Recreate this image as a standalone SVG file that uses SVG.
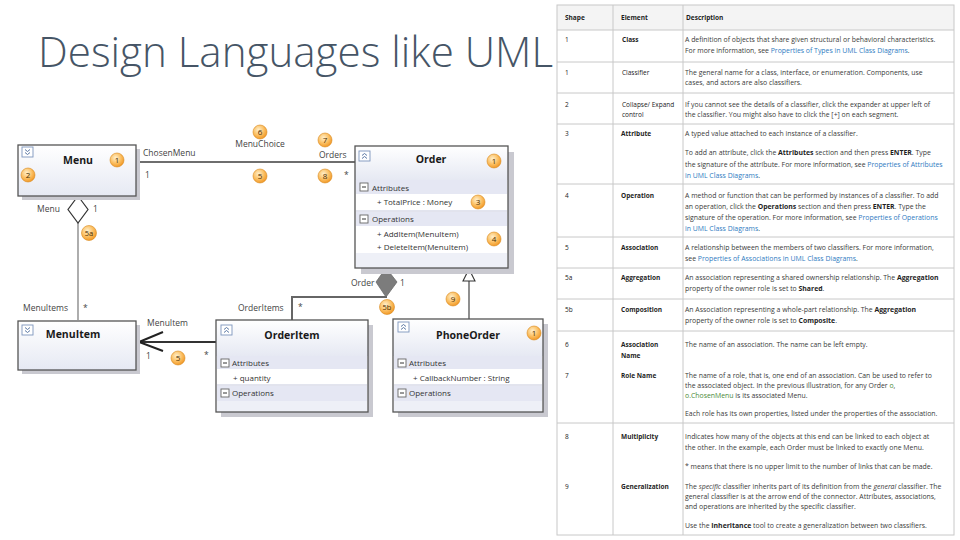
<svg xmlns="http://www.w3.org/2000/svg" xmlns:xlink="http://www.w3.org/1999/xlink" width="960" height="540" viewBox="0 0 960 540">
<defs>
<style>
.title{font-family:"Open Sans","Liberation Sans",sans-serif;font-weight:300;font-size:42px;fill:#465566}
.cn{font-family:"Open Sans","Liberation Sans",sans-serif;font-weight:700;font-size:10.5px;fill:#1a1a1a;text-anchor:middle}
.ct{font-family:"Open Sans","Liberation Sans",sans-serif;font-size:8px;fill:#333}
.lb{font-family:"Open Sans","Liberation Sans",sans-serif;font-size:8.5px;fill:#444}
.bt{font-family:"Open Sans","Liberation Sans",sans-serif;font-size:8px;fill:#4a2c00;text-anchor:middle}
.box{stroke:#555;stroke-width:1.3;fill:none}
.shadow{fill:#c9c9d0}
.band{fill:#e5e7f3}
.bandl{fill:#eef0f7}
.sep{stroke:#c5c8dc;stroke-width:1}
.badge{fill:url(#bg);stroke:#d88a1e;stroke-width:0.6}
.t{font-family:"Open Sans","Liberation Sans",sans-serif;font-size:6.9px;fill:#3a3a3a}
.e{font-family:"Open Sans","Liberation Sans",sans-serif;font-size:6.5px;fill:#222}
.b{font-weight:700;fill:#1e1e1e}
.lk{fill:#2f7bbf}
.cd{fill:#4a8a3a}
.grid{stroke:#c8c8c8;stroke-width:1;fill:none}
</style>
<linearGradient id="boxg" x1="0" y1="0" x2="0" y2="1"><stop offset="0" stop-color="#ffffff"/><stop offset="1" stop-color="#e6e9f3"/></linearGradient>
<radialGradient id="bg" cx="0.4" cy="0.35" r="0.7"><stop offset="0" stop-color="#fff0cc"/><stop offset="0.55" stop-color="#fbbf62"/><stop offset="1" stop-color="#f0931e"/></radialGradient>
<g id="expDown"><rect x="0" y="0" width="11" height="10" fill="#fff" stroke="#7d95bd" stroke-width="0.9"/><path d="M3,2.5 L5.5,4.5 L8,2.5 M3,5.5 L5.5,7.5 L8,5.5" fill="none" stroke="#4a6a9a" stroke-width="0.9"/></g>
<g id="expUp"><rect x="0" y="0" width="11" height="10" fill="#fff" stroke="#7d95bd" stroke-width="0.9"/><path d="M3,4.5 L5.5,2.5 L8,4.5 M3,7.5 L5.5,5.5 L8,7.5" fill="none" stroke="#4a6a9a" stroke-width="0.9"/></g>
<g id="minus"><rect x="0" y="0" width="8" height="8" fill="#fff" stroke="#666" stroke-width="0.9"/><line x1="2" y1="4" x2="6" y2="4" stroke="#333" stroke-width="1"/></g>
</defs>
<rect width="960" height="540" fill="#fff"/>
<text class="title" x="38" y="67" textLength="515" lengthAdjust="spacingAndGlyphs">Design Languages like UML</text>

<!-- connectors -->
<g id="connectors">
<line x1="136" y1="162" x2="355" y2="162" stroke="#6e6e6e" stroke-width="2"/>
<line x1="78" y1="223" x2="78" y2="320" stroke="#777" stroke-width="1.2"/>
<polygon points="78,196 88,209.5 78,223 68,209.5" fill="#fff" stroke="#333" stroke-width="1.2"/>
<line x1="139" y1="342" x2="216" y2="342" stroke="#333" stroke-width="2"/>
<polyline points="163,332 139,342 163,351" fill="none" stroke="#222" stroke-width="2"/>
<polyline points="292,320 292,297 387,297" fill="none" stroke="#666" stroke-width="2"/>
<polygon points="386,268 397,282 386,297 376,282" fill="#7c7c7c" stroke="#6a6a6a" stroke-width="0.8"/>
<line x1="469" y1="319" x2="469" y2="281" stroke="#444" stroke-width="1.2"/>
<polygon points="469,269 475,281 463,281" fill="#fff" stroke="#333" stroke-width="1.1"/>
<text class="lb" x="143" y="156">ChosenMenu</text>
<text class="lb" x="145" y="178">1</text>
<text class="lb" x="260" y="147" text-anchor="middle">MenuChoice</text>
<text class="lb" x="319" y="158">Orders</text>
<text class="lb" x="344" y="178">*</text>
<text class="lb" x="37" y="212">Menu</text>
<text class="lb" x="93" y="212">1</text>
<text class="lb" x="23" y="311">MenuItems</text>
<text class="lb" x="83" y="311">*</text>
<text class="lb" x="147" y="326">MenuItem</text>
<text class="lb" x="146" y="359">1</text>
<text class="lb" x="204" y="358">*</text>
<text class="lb" x="238" y="311">OrderItems</text>
<text class="lb" x="298" y="310">*</text>
<text class="lb" x="351" y="286">Order</text>
<text class="lb" x="400" y="286">1</text>
</g>

<!-- Menu -->
<g id="menu">
<rect class="shadow" x="22" y="149" width="118" height="51"/>
<rect x="18" y="145" width="118" height="51" fill="url(#boxg)"/>
<rect class="box" x="18" y="145" width="118" height="51"/>
<use xlink:href="#expDown" x="22" y="147"/>
<text class="cn" x="78" y="164">Menu</text>
</g>

<!-- Order -->
<g id="order">
<rect class="shadow" x="361" y="152" width="153" height="122"/>
<rect x="355" y="146" width="153" height="122" fill="#fff"/>
<rect x="355" y="146" width="153" height="34" fill="url(#boxg)"/>
<rect class="band" x="356" y="180" width="151" height="14"/>
<line class="sep" x1="356" y1="211" x2="507" y2="211"/>
<rect class="band" x="356" y="212" width="151" height="14"/>
<rect class="bandl" x="356" y="253" width="151" height="15"/>
<rect class="box" x="355" y="146" width="153" height="122"/>
<use xlink:href="#expUp" x="359" y="151"/>
<text class="cn" x="431" y="163">Order</text>
<use xlink:href="#minus" x="360" y="183"/>
<text class="ct" x="372" y="191">Attributes</text>
<text class="ct" x="377" y="205">+ TotalPrice : Money</text>
<use xlink:href="#minus" x="360" y="215"/>
<text class="ct" x="372" y="222">Operations</text>
<text class="ct" x="377" y="237">+ AddItem(MenuItem)</text>
<text class="ct" x="377" y="250">+ DeleteItem(MenuItem)</text>
</g>

<!-- MenuItem -->
<g id="menuitem">
<rect class="shadow" x="22" y="325" width="118" height="49"/>
<rect x="18" y="321" width="118" height="49" fill="url(#boxg)"/>
<rect class="box" x="18" y="321" width="118" height="49"/>
<use xlink:href="#expDown" x="22" y="325"/>
<text class="cn" x="73" y="338">MenuItem</text>
</g>

<!-- OrderItem -->
<g id="orderitem">
<rect class="shadow" x="221" y="325" width="152" height="92"/>
<rect x="216" y="320" width="152" height="92" fill="#fff"/>
<rect x="216" y="320" width="152" height="36" fill="url(#boxg)"/>
<rect class="band" x="217" y="356" width="150" height="13"/>
<line class="sep" x1="217" y1="385" x2="367" y2="385"/>
<rect class="band" x="217" y="386" width="150" height="15"/>
<rect class="bandl" x="217" y="401" width="150" height="11"/>
<rect class="box" x="216" y="320" width="152" height="92"/>
<use xlink:href="#expUp" x="221" y="325"/>
<text class="cn" x="292" y="339">OrderItem</text>
<use xlink:href="#minus" x="221" y="359"/>
<text class="ct" x="232" y="366">Attributes</text>
<text class="ct" x="233" y="381">+ quantity</text>
<use xlink:href="#minus" x="221" y="389"/>
<text class="ct" x="232" y="396">Operations</text>
</g>

<!-- PhoneOrder -->
<g id="phoneorder">
<rect class="shadow" x="398" y="324" width="150" height="93"/>
<rect x="393" y="319" width="150" height="93" fill="#fff"/>
<rect x="393" y="319" width="150" height="37" fill="url(#boxg)"/>
<rect class="band" x="394" y="356" width="148" height="13"/>
<line class="sep" x1="394" y1="385" x2="542" y2="385"/>
<rect class="band" x="394" y="386" width="148" height="15"/>
<rect class="bandl" x="394" y="401" width="148" height="11"/>
<rect class="box" x="393" y="319" width="150" height="93"/>
<use xlink:href="#expUp" x="398" y="322"/>
<text class="cn" x="468" y="339">PhoneOrder</text>
<use xlink:href="#minus" x="398" y="359"/>
<text class="ct" x="409" y="366">Attributes</text>
<text class="ct" x="413" y="381">+ CallbackNumber : String</text>
<use xlink:href="#minus" x="398" y="389"/>
<text class="ct" x="409" y="396">Operations</text>
</g>

<!-- badges -->
<g id="badges">
<circle class="badge" cx="117" cy="160" r="7"/><text class="bt" x="117" y="163">1</text>
<circle class="badge" cx="28" cy="175" r="7"/><text class="bt" x="28" y="178">2</text>
<circle class="badge" cx="260" cy="132" r="7"/><text class="bt" x="260" y="135">6</text>
<circle class="badge" cx="325" cy="140" r="7"/><text class="bt" x="325" y="143">7</text>
<circle class="badge" cx="260" cy="176" r="7"/><text class="bt" x="260" y="179">5</text>
<circle class="badge" cx="325" cy="176" r="7"/><text class="bt" x="325" y="179">8</text>
<circle class="badge" cx="494" cy="161" r="7"/><text class="bt" x="494" y="164">1</text>
<circle class="badge" cx="478" cy="202" r="7"/><text class="bt" x="478" y="205">3</text>
<circle class="badge" cx="494" cy="239" r="7"/><text class="bt" x="494" y="242">4</text>
<circle class="badge" cx="89" cy="233" r="7.5"/><text class="bt" x="89" y="236" style="font-size:7.5px">5a</text>
<circle class="badge" cx="387" cy="307" r="7.5"/><text class="bt" x="387" y="310" style="font-size:7.5px">5b</text>
<circle class="badge" cx="453" cy="299" r="7"/><text class="bt" x="453" y="302">9</text>
<circle class="badge" cx="534" cy="333" r="7"/><text class="bt" x="534" y="336">1</text>
<circle class="badge" cx="178" cy="358" r="7"/><text class="bt" x="178" y="361">5</text>
</g>

<!-- table -->
<g id="table">
<rect x="557" y="5" width="397" height="25" fill="#f4f4f4"/>
<rect class="grid" x="557" y="5" width="397" height="530"/>
<path class="grid" d="M557,30H954 M557,62H954 M557,93H954 M557,124H954 M557,184H954 M557,237H954 M557,268H954 M557,299H954 M557,331H954 M557,423H954 M613,5V535 M683,5V535"/>
<text class="e b" x="565" y="20">Shape</text>
<text class="e b" x="621" y="20">Element</text>
<text class="e b" x="686" y="20">Description</text>

<text class="e" x="565" y="42">1</text>
<text class="e" x="565" y="75">1</text>
<text class="e" x="565" y="107">2</text>
<text class="e" x="565" y="136">3</text>
<text class="e" x="565" y="198">4</text>
<text class="e" x="565" y="250">5</text>
<text class="e" x="565" y="280">5a</text>
<text class="e" x="565" y="312">5b</text>
<text class="e" x="565" y="347">6</text>
<text class="e" x="565" y="378">7</text>
<text class="e" x="565" y="439">8</text>
<text class="e" x="565" y="489">9</text>

<text class="e b" x="622" y="42">Class</text>
<text class="e" x="622" y="75">Classifier</text>
<text class="e" x="622" y="107">Collapse/ Expand</text>
<text class="e" x="622" y="117">control</text>
<text class="e b" x="621" y="136">Attribute</text>
<text class="e b" x="621" y="198">Operation</text>
<text class="e b" x="621" y="250">Association</text>
<text class="e b" x="621" y="280">Aggregation</text>
<text class="e b" x="621" y="312">Composition</text>
<text class="e b" x="621" y="347">Association</text>
<text class="e b" x="621" y="358">Name</text>
<text class="e b" x="621" y="378">Role Name</text>
<text class="e b" x="621" y="439">Multiplicity</text>
<text class="e b" x="621" y="489">Generalization</text>

<text class="t" x="685" y="42.3">A definition of objects that share given structural or behavioral characteristics.</text>
<text class="t" x="685" y="53.3">For more information, see <tspan class="lk">Properties of Types in UML Class Diagrams</tspan>.</text>
<text class="t" x="685" y="75.3">The general name for a class, interface, or enumeration. Components, use</text>
<text class="t" x="685" y="85.3">cases, and actors are also classifiers.</text>
<text class="t" x="685" y="107.3">If you cannot see the details of a classifier, click the expander at upper left of</text>
<text class="t" x="685" y="117.3">the classifier. You might also have to click the [+] on each segment.</text>
<text class="t" x="685" y="136.3">A typed value attached to each instance of a classifier.</text>
<text class="t" x="685" y="155.3">To add an attribute, click the <tspan class="b">Attributes</tspan> section and then press <tspan class="b">ENTER</tspan>. Type</text>
<text class="t" x="685" y="166.8">the signature of the attribute. For more information, see <tspan class="lk">Properties of Attributes</tspan></text>
<text class="t" x="685" y="178.3"><tspan class="lk">in UML Class Diagrams</tspan>.</text>
<text class="t" x="685" y="198.3">A method or function that can be performed by instances of a classifier. To add</text>
<text class="t" x="685" y="209.3">an operation, click the <tspan class="b">Operations</tspan> section and then press <tspan class="b">ENTER</tspan>. Type the</text>
<text class="t" x="685" y="220.3">signature of the operation. For more information, see <tspan class="lk">Properties of Operations</tspan></text>
<text class="t" x="685" y="231.3"><tspan class="lk">in UML Class Diagrams</tspan>.</text>
<text class="t" x="685" y="250.3">A relationship between the members of two classifiers. For more information,</text>
<text class="t" x="685" y="260.8">see <tspan class="lk">Properties of Associations in UML Class Diagrams</tspan>.</text>
<text class="t" x="685" y="280.3">An association representing a shared ownership relationship. The <tspan class="b">Aggregation</tspan></text>
<text class="t" x="685" y="291.3">property of the owner role is set to <tspan class="b">Shared</tspan>.</text>
<text class="t" x="685" y="312.3">An Association representing a whole-part relationship. The <tspan class="b">Aggregation</tspan></text>
<text class="t" x="685" y="322.8">property of the owner role is set to <tspan class="b">Composite</tspan>.</text>
<text class="t" x="685" y="347.3">The name of an association. The name can be left empty.</text>
<text class="t" x="685" y="378.3">The name of a role, that is, one end of an association. Can be used to refer to</text>
<text class="t" x="685" y="388.3">the associated object. In the previous illustration, for any Order <tspan class="cd">o</tspan>,</text>
<text class="t" x="685" y="398.3"><tspan class="cd">o.ChosenMenu</tspan> is its associated Menu.</text>
<text class="t" x="685" y="416.3">Each role has its own properties, listed under the properties of the association.</text>
<text class="t" x="685" y="439.3">Indicates how many of the objects at this end can be linked to each object at</text>
<text class="t" x="685" y="450.3">the other. In the example, each Order must be linked to exactly one Menu.</text>
<text class="t" x="685" y="469.3">* means that there is no upper limit to the number of links that can be made.</text>
<text class="t" x="685" y="489.3">The <tspan font-style="italic">specific</tspan> classifier inherits part of its definition from the <tspan font-style="italic">general</tspan> classifier. The</text>
<text class="t" x="685" y="499.3">general classifier is at the arrow end of the connector. Attributes, associations,</text>
<text class="t" x="685" y="509.3">and operations are inherited by the specific classifier.</text>
<text class="t" x="685" y="528.3">Use the <tspan class="b">Inheritance</tspan> tool to create a generalization between two classifiers.</text>
</g>
</svg>
